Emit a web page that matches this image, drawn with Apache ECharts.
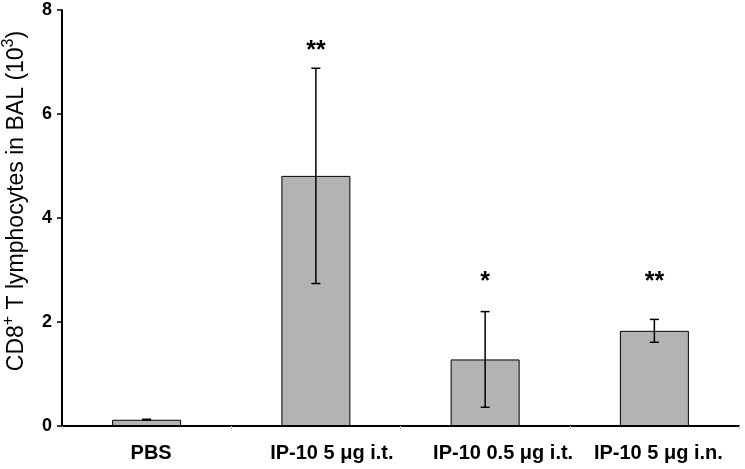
<!DOCTYPE html>
<html>
<head>
<meta charset="utf-8">
<script src="https://cdn.jsdelivr.net/npm/echarts@6/dist/echarts.min.js"></script>
<style>html,body{margin:0;padding:0;background:#fff}#c{width:745px;height:469px}</style>
</head>
<body>
<div id="c"></div>
<script>
const categories = ['PBS', 'IP-10 5 \u03bcg i.t.', 'IP-10 0.5 \u03bcg i.t.', 'IP-10 5 \u03bcg i.n.'];
const means = [0.12, 4.81, 1.28, 1.83];
const errors = [0.01, 2.07, 0.92, 0.22];
const stars = ['', '**', '*', '**'];
const starLevels = [null, 7.2, 2.76, 2.76];
const yTicks = [0, 2, 4, 6, 8];

const chart = echarts.init(document.getElementById('c'), null, {renderer: 'canvas'});
const font = '"Liberation Sans", Arial, sans-serif';
const labelShift = [9, 32, 36, 8];

chart.setOption({
  animation: false,
  grid: {left: 62, right: 6, top: 10, bottom: 43, containLabel: false, outerBoundsMode: 'none'},
  xAxis: {
    type: 'category',
    data: categories.map((c, i) => ({value: c, textStyle: {padding: [0, 0, 0, labelShift[i]]}})),
    axisLine: {lineStyle: {color: '#000', width: 2}},
    axisTick: {show: true, length: 3, lineStyle: {color: '#c8c8c8', width: 1}},
    axisLabel: {color: '#000', fontFamily: font, fontWeight: 'bold', fontSize: 20, margin: 17, interval: 0}
  },
  yAxis: {
    type: 'value',
    min: yTicks[0],
    max: yTicks[yTicks.length - 1],
    interval: 2,
    splitLine: {show: false},
    axisLine: {show: true, lineStyle: {color: '#000', width: 2}},
    axisTick: {show: true, length: 5, lineStyle: {color: '#000', width: 1.5}},
    axisLabel: {color: '#000', fontFamily: font, fontWeight: 'bold', fontSize: 18, margin: 10},
    name: '{n|CD8}{s|+}{n| T lymphocytes in BAL (10}{s|3}{n|)}',
    nameLocation: 'middle',
    nameGap: 34,
    nameTextStyle: {
      padding: [0, 0, 0, 34],
      rich: {
        n: {fontFamily: font, fontSize: 23, color: '#000', lineHeight: 27, verticalAlign: 'bottom'},
        s: {fontFamily: font, fontSize: 16, color: '#000', lineHeight: 27, verticalAlign: 'top'}
      }
    }
  },
  series: [
    {
      type: 'bar',
      data: means,
      barWidth: 69,
      itemStyle: {color: '#b3b3b3', borderColor: '#000', borderWidth: 1}
    },
    {
      type: 'custom',
      data: means.map((m, i) => [i, m - errors[i], m + errors[i]]),
      z: 5,
      renderItem: function (params, api) {
        const x = api.coord([api.value(0), 0])[0];
        const lo = api.coord([api.value(0), api.value(1)])[1];
        const hi = api.coord([api.value(0), api.value(2)])[1];
        const hw = 4.5;
        const st = {stroke: '#000', lineWidth: 1.5};
        return {type: 'group', children: [
          {type: 'line', shape: {x1: x, y1: lo, x2: x, y2: hi}, style: st},
          {type: 'line', shape: {x1: x - hw, y1: hi, x2: x + hw, y2: hi}, style: st},
          {type: 'line', shape: {x1: x - hw, y1: lo, x2: x + hw, y2: lo}, style: st}
        ]};
      }
    },
    {
      type: 'custom',
      data: starLevels.map((v, i) => [i, v == null ? 0 : v, stars[i]]),
      z: 6,
      renderItem: function (params, api) {
        const i = params.dataIndex;
        if (!stars[i]) return null;
        const p = api.coord([api.value(0), api.value(1)]);
        return {type: 'text', x: p[0], y: p[1], style: {
          text: stars[i], fill: '#000', fontFamily: font, fontWeight: 'bold', fontSize: 25,
          align: 'center', verticalAlign: 'middle'
        }};
      }
    }
  ]
});
</script>
</body>
</html>
